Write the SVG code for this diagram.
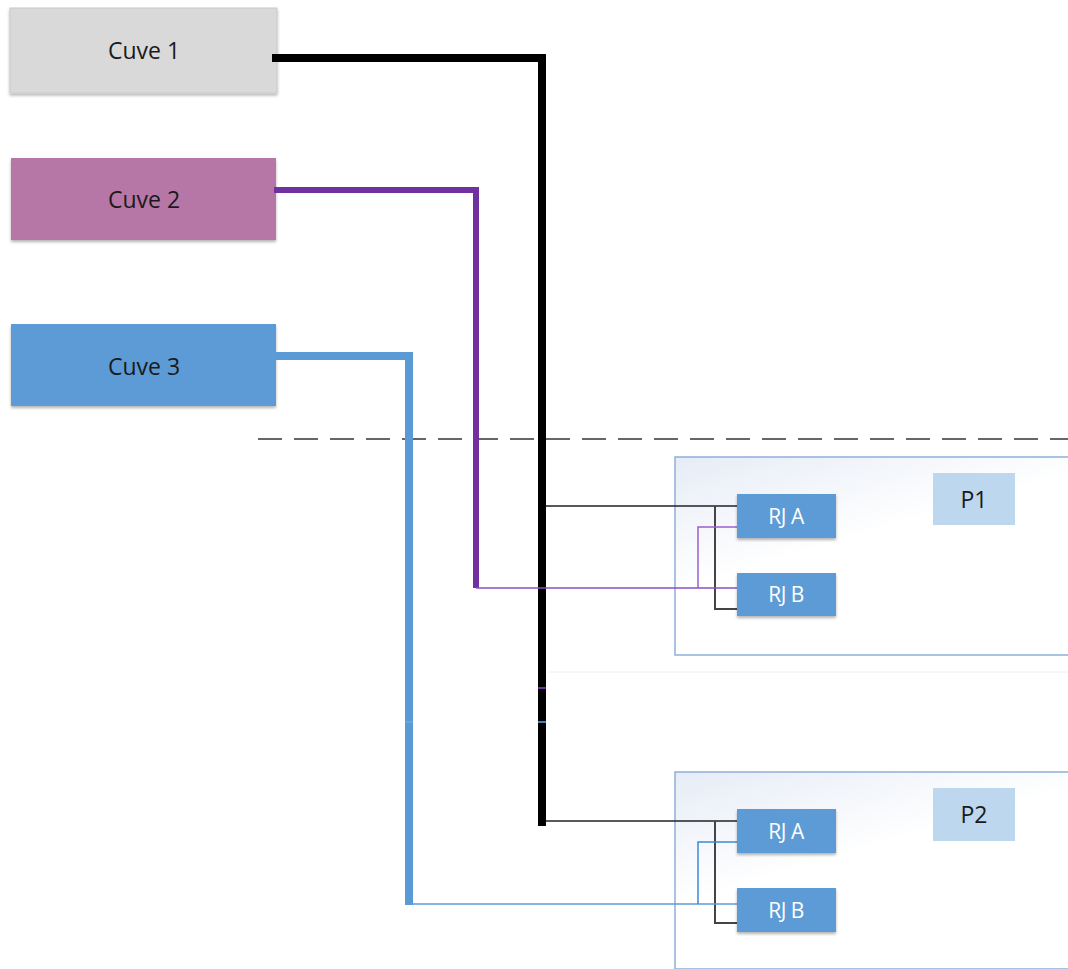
<svg xmlns="http://www.w3.org/2000/svg" width="1068" height="969" viewBox="0 0 1068 969">
<defs>
<linearGradient id="pg" x1="0" y1="0" x2="0.6" y2="1">
<stop offset="0" stop-color="#e6ecf6"/>
<stop offset="0.5" stop-color="#ffffff"/>
<stop offset="1" stop-color="#ffffff"/>
</linearGradient>
<filter id="sh" x="-10%" y="-10%" width="125%" height="130%">
<feGaussianBlur in="SourceAlpha" stdDeviation="1.5"/>
<feOffset dx="0" dy="2"/>
<feComponentTransfer><feFuncA type="linear" slope="0.3"/></feComponentTransfer>
<feMerge><feMergeNode/><feMergeNode in="SourceGraphic"/></feMerge>
</filter>
</defs>
<style>
.cuve text{font-family:"Open Sans","Liberation Sans",sans-serif;font-size:23px;fill:#1a1a1a;text-anchor:middle}
.panel{fill:url(#pg);stroke:#8eaedb;stroke-width:1.5}
.rj{fill:#5b9bd5;filter:url(#sh)}
.rjt{font-family:"Open Sans","Liberation Sans",sans-serif;font-size:21px;fill:#ffffff;text-anchor:middle;letter-spacing:-0.5px}
.pl{fill:#bdd7ee}
.plt{font-family:"Open Sans","Liberation Sans",sans-serif;font-size:23px;fill:#1a1a1a;text-anchor:middle}
.c{fill:none;stroke-linejoin:miter}
</style>
<rect width="1068" height="969" fill="#ffffff"/>
<line x1="258" y1="439" x2="1068" y2="439" stroke="#666" stroke-width="2" stroke-dasharray="24,12"/>
<g id="panel-p1">
<rect class="panel" x="675" y="457" width="400" height="198"/>
<rect class="pl" x="933" y="473" width="82" height="52"/>
<text class="plt" x="974" y="508">P1</text>
</g>
<g id="panel-p2">
<rect class="panel" x="675" y="772" width="400" height="197"/>
<rect class="pl" x="933" y="788" width="82" height="53"/>
<text class="plt" x="974" y="823">P2</text>
</g>
<line x1="548" y1="672" x2="1068" y2="672" stroke="#f0f0f0" stroke-width="1"/>
<g id="cuve1" class="cuve">
<rect x="10" y="8" width="267" height="85" fill="#d9d9d9" stroke="#c9c9c9" stroke-width="1" filter="url(#sh)"/>
<text x="144" y="59">Cuve 1</text>
</g>
<g id="cuve2" class="cuve">
<rect x="11" y="158" width="265" height="82" fill="#b676a6" filter="url(#sh)"/>
<text x="144" y="208">Cuve 2</text>
</g>
<g id="cuve3" class="cuve">
<rect x="11" y="324" width="265" height="82" fill="#5b9bd5" filter="url(#sh)"/>
<text x="144" y="375">Cuve 3</text>
</g>
<g id="connectors">
<polyline class="c" points="276,356 409,356 409,905" stroke="#5b9bd5" stroke-width="8"/>
<polyline class="c" points="274,190 476,190 476,588" stroke="#7030a0" stroke-width="6"/>
<polyline class="c" points="272,58 542,58 542,826" stroke="#000" stroke-width="8"/>
<line x1="538" y1="688" x2="546" y2="688" stroke="#7030a0" stroke-width="2"/>
<line x1="538" y1="722" x2="546" y2="722" stroke="#4a7fb5" stroke-width="2"/>
<line x1="405" y1="722" x2="413" y2="722" stroke="#7fb0de" stroke-width="1"/>
<line x1="546" y1="506" x2="737" y2="506" stroke="#222" stroke-width="1.5"/>
<polyline class="c" points="715,506 715,609 737,609" stroke="#444" stroke-width="2"/>
<line x1="476" y1="588" x2="737" y2="588" stroke="#8a4fbf" stroke-width="1.5"/>
<polyline class="c" points="698,588 698,527 737,527" stroke="#9a5fcc" stroke-width="1.5"/>
<line x1="546" y1="821" x2="737" y2="821" stroke="#222" stroke-width="1.5"/>
<polyline class="c" points="715,821 715,923 737,923" stroke="#444" stroke-width="2"/>
<line x1="409" y1="904" x2="737" y2="904" stroke="#5b9bd5" stroke-width="1.5"/>
<polyline class="c" points="698,904 698,842 737,842" stroke="#3a8ad5" stroke-width="1.5"/>
</g>
<g id="p1-rja"><rect class="rj" x="737" y="494" width="99" height="44"/><text class="rjt" x="786" y="524">RJ A</text></g>
<g id="p1-rjb"><rect class="rj" x="737" y="573" width="99" height="43"/><text class="rjt" x="786" y="602">RJ B</text></g>
<g id="p2-rja"><rect class="rj" x="737" y="809" width="99" height="44"/><text class="rjt" x="786" y="839">RJ A</text></g>
<g id="p2-rjb"><rect class="rj" x="737" y="888" width="99" height="44"/><text class="rjt" x="786" y="918">RJ B</text></g>
</svg>
